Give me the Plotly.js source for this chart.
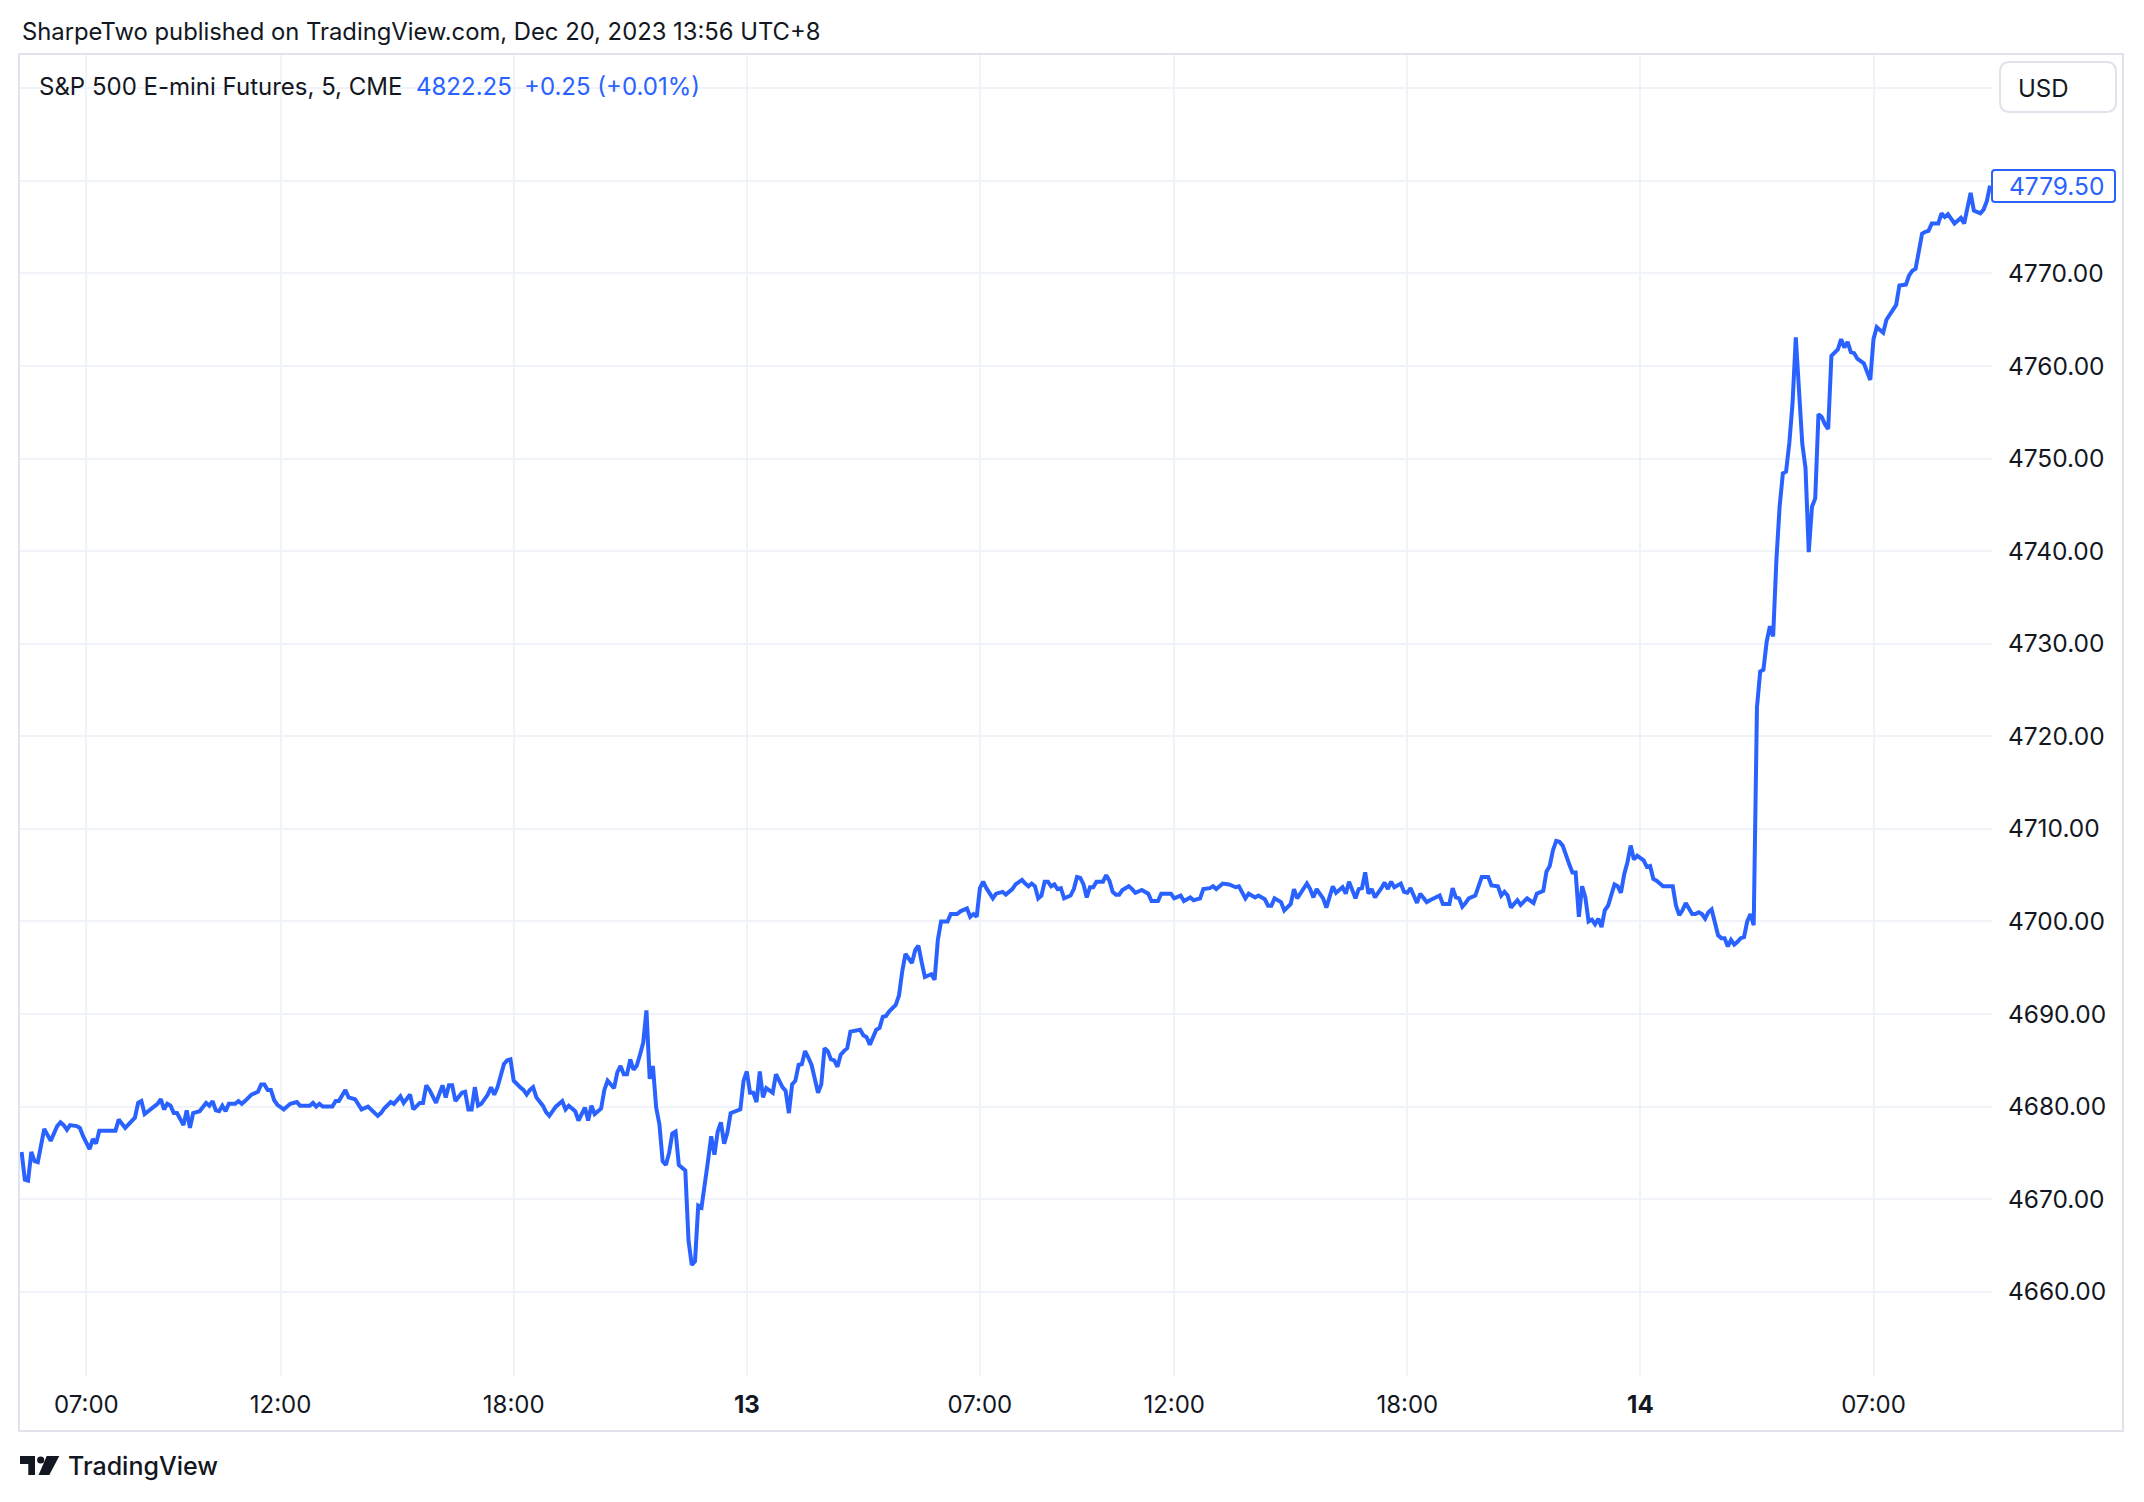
<!DOCTYPE html>
<html>
<head>
<meta charset="utf-8">
<script src="https://cdn.plot.ly/plotly-3.0.1.min.js"></script>
<style>
  html, body { margin: 0; padding: 0; background: #ffffff; }
  #chart { width: 2144px; height: 1502px; }
</style>
</head>
<body>
<div id="chart"></div>
<script>
// ---- Data: S&P 500 E-mini Futures, 5-minute closes (UTC+8) ----
const d12Time = ['04:20','04:25','04:30','04:35','04:40','04:45','04:55','05:00','05:05','05:15','05:20','05:25','05:30','05:35','05:45','05:50','05:55',
  '07:05','07:10','07:15','07:20','07:45','07:50','08:00','08:10','08:15','08:20','08:25','08:30','08:45','08:50','08:55','09:00','09:05','09:10','09:15','09:20','09:30','09:35','09:40','09:45','09:55',
  '10:05','10:10','10:15','10:20','10:25','10:30','10:35','10:40','10:50','10:55','11:00','11:05','11:15','11:25','11:30','11:35','11:40','11:45','11:50','11:55',
  '12:05','12:15','12:25','12:30','12:45','12:50','12:55','13:00','13:05','13:20','13:25','13:30','13:40','13:45','13:55','14:05','14:15','14:30','14:35','14:40','14:50','14:55',
  '15:05','15:10','15:20','15:25','15:35','15:40','15:45','15:50','16:00','16:10','16:15','16:20','16:25','16:30','16:40','16:45','16:50','16:55',
  '17:00','17:05','17:10','17:20','17:25','17:30','17:35','17:45','17:50','17:55','18:00','18:10','18:15','18:20','18:25','18:30','18:35','18:45','18:50','18:55',
  '19:05','19:15','19:20','19:25','19:35','19:40','19:50','19:55','20:00','20:05','20:15','20:20','20:25','20:35','20:40','20:45','20:50','20:55',
  '21:00','21:05','21:10','21:15','21:20','21:25','21:30','21:35','21:40','21:45','21:50','21:55','22:00','22:05','22:10','22:15','22:20','22:25','22:30','22:35','22:40','22:45','22:50','22:55',
  '23:00','23:05','23:10','23:15','23:20','23:25','23:30','23:35','23:45','23:50','23:55'];
const d12Price = [4675.1,4672.1,4672.0,4675.1,4674.1,4674.0,4677.6,4676.9,4676.3,4677.9,4678.3,4678.0,4677.5,4678.0,4677.9,4677.7,4676.8,
  4675.4,4676.5,4676.0,4677.4,4677.4,4678.6,4677.7,4678.5,4678.8,4680.4,4680.6,4679.2,4680.1,4680.3,4680.8,4679.7,4680.3,4680.1,4679.3,4679.3,4678.0,4679.6,4677.7,4679.3,4679.5,
  4680.4,4680.1,4680.6,4679.6,4679.5,4680.1,4679.5,4680.3,4680.3,4680.6,4680.3,4680.6,4681.3,4681.6,4682.4,4682.4,4681.8,4681.8,4680.7,4680.2,
  4679.7,4680.3,4680.5,4680.1,4680.1,4680.4,4680.0,4680.3,4680.0,4680.0,4680.6,4680.6,4681.8,4681.0,4680.8,4679.7,4680.0,4679.0,4679.3,4679.8,4680.5,4680.3,
  4681.1,4680.4,4681.3,4679.7,4680.4,4680.4,4682.3,4681.8,4680.4,4682.3,4681.0,4682.3,4682.3,4680.6,4681.5,4681.6,4679.7,4679.7,
  4682.1,4680.1,4680.3,4681.3,4682.1,4681.3,4682.1,4684.6,4685.0,4685.1,4682.8,4682.1,4681.8,4681.3,4681.8,4682.1,4681.0,4680.1,4679.4,4679.0,
  4680.0,4680.6,4679.7,4680.1,4679.5,4678.5,4679.9,4678.5,4680.1,4679.2,4679.8,4681.8,4682.8,4682.0,4683.7,4684.4,4683.5,4683.5,
  4685.1,4684.0,4684.4,4685.6,4686.9,4690.4,4683.0,4684.4,4679.9,4678.1,4674.1,4673.7,4675.0,4677.1,4677.3,4673.7,4673.4,4673.1,4665.5,4662.9,4663.3,4669.3,4669.1,4671.3,
  4674.1,4676.8,4674.8,4677.3,4678.3,4676.0,4677.2,4679.3,4679.5,4679.7,4682.8];

const d13Time = ['00:00','00:05','00:10','00:15','00:20','00:25','00:30','00:40','00:45','00:55','01:00','01:05','01:10','01:15','01:20','01:25','01:30','01:35','01:40','01:50','01:55',
  '02:00','02:05','02:10','02:15','02:20','02:25','02:30','02:35','02:40','02:45','02:55','03:00','03:05','03:10','03:20','03:25','03:30','03:35','03:40','03:50','03:55',
  '04:00','04:05','04:10','04:15','04:20','04:25','04:30','04:35','04:45','04:50','04:55','05:00','05:10','05:15','05:25','05:30','05:40','05:45','05:50','05:55',
  '07:00','07:05','07:10','07:20','07:25','07:35','07:40','07:45','07:50','07:55','08:05','08:10','08:15','08:20','08:25','08:30','08:35','08:40','08:45','08:50','08:55',
  '09:00','09:05','09:10','09:20','09:25','09:30','09:35','09:40','09:45','09:50','09:55','10:00','10:10','10:15','10:20','10:25','10:30','10:35','10:40','10:50','10:55',
  '11:00','11:10','11:15','11:20','11:25','11:35','11:40','11:55','12:00','12:10','12:15','12:25','12:30','12:40','12:45','12:55','13:00','13:05','13:15','13:25','13:35','13:40','13:50','13:55',
  '14:05','14:10','14:20','14:25','14:30','14:35','14:45','14:50','15:00','15:05','15:10','15:25','15:30','15:35','15:40','15:50','15:55',
  '16:05','16:10','16:20','16:25','16:30','16:35','16:40','16:45','16:50','16:55','17:00','17:05','17:10','17:20','17:25','17:30','17:35','17:40','17:50','17:55',
  '18:00','18:05','18:15','18:20','18:30','18:35','18:50','18:55','19:05','19:10','19:15','19:20','19:25','19:30','19:35','19:45','19:50','19:55',
  '20:05','20:10','20:20','20:25','20:30','20:35','20:40','20:45','20:50','20:55','21:05','21:15','21:20','21:30','21:35','21:40','21:45','21:50','21:55',
  '22:00','22:05','22:10','22:15','22:20','22:25','22:30','22:35','22:40','22:45','22:50','22:55','23:00','23:05','23:10','23:20','23:25','23:30','23:35','23:40','23:45','23:50','23:55'];
const d13Price = [4683.8,4681.5,4681.5,4680.5,4683.8,4681.0,4682.0,4681.5,4683.5,4682.1,4681.7,4679.3,4682.4,4682.8,4684.5,4684.6,4686.0,4685.3,4684.5,4681.5,4682.4,
  4686.3,4686.0,4685.1,4685.0,4684.3,4685.6,4686.0,4686.3,4688.1,4688.2,4688.3,4687.7,4687.5,4686.7,4688.3,4688.5,4689.7,4689.8,4690.3,4691.0,4692.0,
  4694.6,4696.5,4696.0,4695.5,4696.9,4697.4,4695.6,4694.0,4694.3,4693.7,4698.0,4700.0,4700.0,4700.8,4700.8,4701.1,4701.4,4700.5,4700.8,4700.5,
  4703.6,4704.3,4703.6,4702.5,4703.0,4703.2,4702.9,4703.2,4703.5,4704.0,4704.5,4704.1,4703.8,4704.1,4703.8,4702.5,4702.8,4704.3,4704.3,4703.8,4704.0,
  4703.5,4703.6,4702.5,4702.8,4703.5,4704.8,4704.7,4704.0,4702.6,4703.7,4703.7,4704.3,4704.3,4705.0,4704.4,4703.2,4702.9,4702.9,4703.4,4703.8,4703.5,
  4703.1,4703.4,4703.2,4703.0,4702.2,4702.2,4703.0,4703.0,4702.5,4702.8,4702.2,4702.6,4702.3,4702.5,4703.5,4703.6,4703.8,4703.5,4704.1,4704.0,4703.7,4703.8,4702.5,4703.0,
  4702.6,4702.8,4702.4,4701.7,4701.7,4702.5,4702.1,4701.2,4701.9,4703.5,4702.5,4704.1,4703.5,4702.6,4703.5,4702.5,4701.5,
  4703.8,4703.1,4703.7,4703.0,4704.3,4703.4,4702.5,4703.5,4703.6,4705.3,4703.0,4703.5,4702.6,4703.6,4704.2,4703.5,4704.3,4703.7,4704.1,4703.2,
  4703.1,4703.6,4702.0,4703.0,4702.1,4702.3,4702.8,4701.9,4701.9,4703.6,4702.6,4702.5,4701.6,4702.0,4702.5,4702.8,4703.9,4704.8,
  4704.8,4703.9,4703.8,4702.8,4703.2,4702.8,4701.5,4701.9,4702.3,4701.8,4702.5,4702.0,4703.0,4703.3,4705.4,4706.0,4707.7,4708.7,4708.6,
  4708.2,4707.1,4706.2,4705.3,4705.3,4700.5,4703.8,4702.6,4700.0,4700.2,4699.7,4700.3,4699.4,4701.2,4701.7,4704.0,4703.8,4703.1,4705.1,4706.4,4708.2,4706.7,4707.1];

const d14Time = ['00:05','00:10','00:15','00:20','00:25','00:35','00:50','00:55','01:00','01:05','01:10','01:15','01:20','01:25','01:30','01:35','01:40','01:45','01:50',
  '02:00','02:05','02:10','02:15','02:20','02:25','02:30','02:35','02:40','02:45','02:50','02:55',
  '03:00','03:05','03:10','03:15','03:20','03:25','03:30','03:35','03:40','03:45','03:50','03:55','04:00','04:05','04:10','04:15','04:20','04:25','04:30','04:35','04:40','04:45','04:50','04:55',
  '05:00','05:05','05:10','05:15','05:20','05:25','05:30','05:35','05:45','05:50','05:55',
  '07:00','07:05','07:10','07:15','07:20','07:25','07:35','07:40','07:50','07:55','08:00','08:05','08:10','08:15','08:20','08:25','08:30','08:40','08:45','08:50','08:55',
  '09:05','09:15','09:20','09:30','09:35','09:45','09:50','09:55','10:00'];
const d14Price = [4706.6,4705.9,4706.0,4704.6,4704.4,4703.8,4703.8,4701.7,4700.7,4701.2,4702.0,4701.4,4700.8,4700.8,4701.0,4700.8,4700.3,4701.0,4701.3,
  4698.5,4698.2,4698.2,4697.3,4698.0,4697.5,4697.8,4698.2,4698.3,4700.0,4700.8,4699.6,
  4723.1,4727.0,4727.2,4730.2,4731.9,4730.8,4739.0,4744.8,4748.4,4748.6,4751.7,4756.0,4763.1,4758.1,4751.6,4749.0,4739.9,4744.8,4745.7,4754.8,4754.5,4753.7,4753.2,4761.1,
  4761.5,4761.8,4762.9,4762.0,4762.6,4761.5,4761.4,4760.8,4760.3,4759.4,4758.5,
  4762.9,4764.2,4763.9,4763.6,4765.0,4765.5,4766.6,4768.7,4768.8,4769.8,4770.3,4770.5,4772.7,4774.3,4774.5,4774.6,4775.4,4775.4,4776.5,4776.1,4776.4,
  4775.4,4776.0,4775.4,4778.7,4776.8,4776.5,4776.9,4777.8,4779.5];

const tickTimes = ['2023-12-12 07:00','2023-12-12 12:00','2023-12-12 18:00','2023-12-13 00:00','2023-12-13 07:00','2023-12-13 12:00','2023-12-13 18:00','2023-12-14 00:00','2023-12-14 07:00'];
const tickLabels = ['07:00','12:00','18:00','<b>13</b>','07:00','12:00','18:00','<b>14</b>','07:00'];
const priceTicks = [4660,4670,4680,4690,4700,4710,4720,4730,4740,4750,4760,4770,4780,4790];
const priceTickLabels = priceTicks.map(v => v <= 4770 ? v.toFixed(2) : '');

const headerText = 'SharpeTwo published on TradingView.com, Dec 20, 2023 13:56 UTC+8';
const symbolText = 'S&amp;P 500 E-mini Futures, 5, CME';
const quoteText = '4822.25';
const changeText = '+0.25 (+0.01%)';

// ---- Build series ----
const x = [].concat(
  d12Time.map(t => '2023-12-12 ' + t),
  d13Time.map(t => '2023-12-13 ' + t),
  d14Time.map(t => '2023-12-14 ' + t));
const y = [].concat(d12Price, d13Price, d14Price);
const lastPrice = d14Price[d14Price.length - 1];

// ---- Pixel helpers (plot area) ----
const W = 2144, H = 1502;
const L = 19, R = 1992, T = 55, B = 1376;
const px = v => (v - L) / (R - L);
const py = v => (B - v) / (B - T);

const FONT = 'Inter, "Noto Sans", "DejaVu Sans", sans-serif';
const INK = '#131722';
const BLUE = '#2962ff';
const GRID = '#f0f3fa';
const FRAME = '#e0e3eb';

function rrect(x0, y0, x1, y1, r) {
  return `M ${px(x0 + r)},${py(y0)} L ${px(x1 - r)},${py(y0)} Q ${px(x1)},${py(y0)} ${px(x1)},${py(y0 + r)} ` +
         `L ${px(x1)},${py(y1 - r)} Q ${px(x1)},${py(y1)} ${px(x1 - r)},${py(y1)} ` +
         `L ${px(x0 + r)},${py(y1)} Q ${px(x0)},${py(y1)} ${px(x0)},${py(y1 - r)} ` +
         `L ${px(x0)},${py(y0 + r)} Q ${px(x0)},${py(y0)} ${px(x0 + r)},${py(y0)} Z`;
}
function poly(pts) {
  return 'M ' + pts.map(p => `${px(p[0])},${py(p[1])}`).join(' L ') + ' Z';
}

const trace = {
  type: 'scatter', mode: 'lines', x: x, y: y,
  line: { color: BLUE, width: 4, shape: 'linear' },
  hoverinfo: 'skip', showlegend: false, cliponaxis: true
};

const ann = (xp, yp, text, opts) => Object.assign({
  xref: 'paper', yref: 'paper', x: px(xp), y: py(yp), text: text, showarrow: false,
  xanchor: 'left', yanchor: 'middle', font: { family: FONT, size: 24, color: INK }
}, opts || {});

const layout = {
  width: W, height: H,
  margin: { l: L, r: W - R, t: T, b: H - B, pad: 0 },
  paper_bgcolor: '#ffffff', plot_bgcolor: '#ffffff',
  showlegend: false,
  font: { family: FONT, size: 24, color: INK },
  xaxis: {
    type: 'date',
    range: ['2023-12-12 04:16', '2023-12-14 10:03'],
    rangebreaks: [{ pattern: 'hour', bounds: [6, 7] }],
    tickmode: 'array', tickvals: tickTimes, ticktext: tickLabels,
    showgrid: true, gridcolor: GRID, gridwidth: 2,
    zeroline: false, showline: false,
    ticks: 'outside', ticklen: 7, tickcolor: 'rgba(0,0,0,0)',
    tickfont: { family: FONT, size: 24, color: INK },
    fixedrange: true
  },
  yaxis: {
    side: 'right',
    range: [4650.9, 4793.6],
    tickmode: 'array', tickvals: priceTicks, ticktext: priceTickLabels,
    showgrid: true, gridcolor: GRID, gridwidth: 2,
    zeroline: false, showline: false,
    ticks: 'outside', ticklen: 10, tickcolor: 'rgba(0,0,0,0)',
    tickfont: { family: FONT, size: 24.5, color: INK },
    fixedrange: true
  },
  shapes: [
    // outer frame
    { type: 'rect', xref: 'paper', yref: 'paper', x0: px(19), x1: px(2123), y0: py(54), y1: py(1431),
      line: { color: FRAME, width: 2 }, fillcolor: 'rgba(0,0,0,0)', layer: 'above' },
    // USD button
    { type: 'path', xref: 'paper', yref: 'paper', path: rrect(2000, 62, 2116, 112, 10),
      line: { color: FRAME, width: 2 }, fillcolor: '#ffffff', layer: 'above' },
    // last price tag
    { type: 'path', xref: 'paper', yref: 'paper', path: rrect(1992, 170, 2115, 202, 3),
      line: { color: BLUE, width: 2 }, fillcolor: '#ffffff', layer: 'above' },
    // TradingView logo
    { type: 'path', xref: 'paper', yref: 'paper', path: poly([[20,1456],[35,1456],[35,1475],[28.3,1475],[28.3,1464],[20,1464]]),
      line: { width: 0 }, fillcolor: INK, layer: 'above' },
    { type: 'circle', xref: 'paper', yref: 'paper', x0: px(37.1), x1: px(44.3), y0: py(1456.4), y1: py(1463.6),
      line: { width: 0 }, fillcolor: INK, layer: 'above' },
    { type: 'path', xref: 'paper', yref: 'paper', path: poly([[46.7,1456],[59.3,1456],[49.3,1475],[38.6,1475]]),
      line: { width: 0 }, fillcolor: INK, layer: 'above' }
  ],
  annotations: [
    ann(20, 31.5, headerText, { font: { family: FONT, size: 23.8, color: INK } }),
    ann(37, 86.5, symbolText),
    ann(414, 86.5, quoteText, { font: { family: FONT, size: 24, color: BLUE } }),
    ann(522, 86.5, changeText, { font: { family: FONT, size: 24, color: BLUE } }),
    ann(2016, 88, 'USD'),
    ann(2106, 186, lastPrice.toFixed(2), { xanchor: 'right', font: { family: FONT, size: 24.5, color: BLUE } }),
    ann(66, 1466, 'TradingView', { font: { family: FONT, size: 25, color: INK, weight: 500 } })
  ]
};

Plotly.newPlot('chart', [trace], layout, { staticPlot: true, displayModeBar: false });
</script>
</body>
</html>
